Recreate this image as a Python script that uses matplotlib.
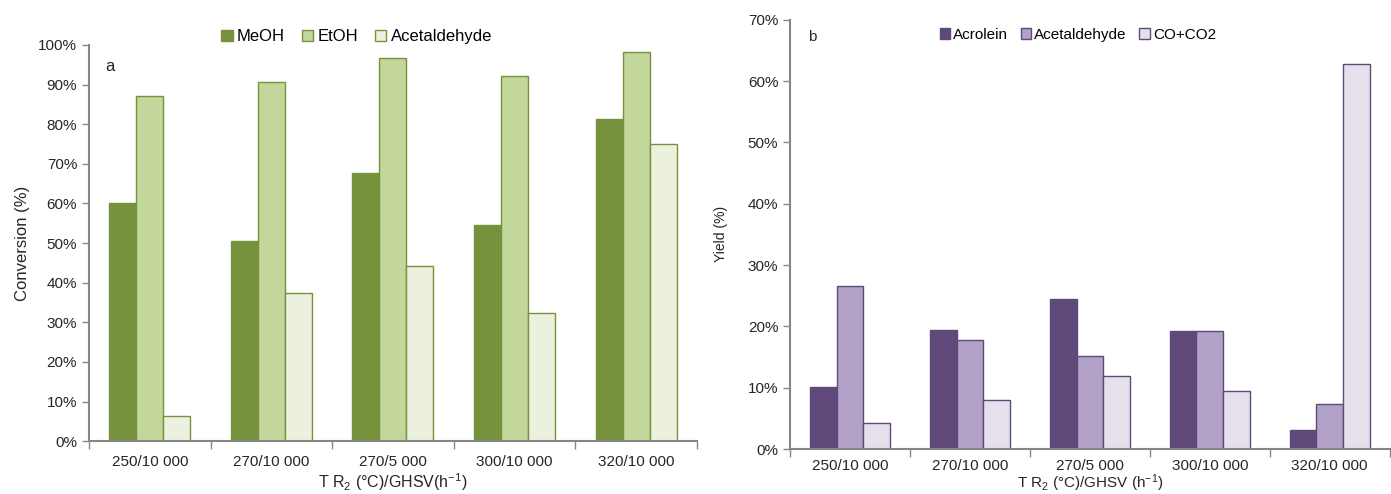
import matplotlib
matplotlib.use("Agg")
import matplotlib.pyplot as plt
import numpy as np

plt.rcParams['font.family'] = ['Liberation Sans', 'DejaVu Sans']
plt.rcParams['mathtext.fontset'] = 'custom'
plt.rcParams['mathtext.rm'] = 'Liberation Sans'
plt.rcParams['mathtext.it'] = 'Liberation Sans'

categories = ["250/10 000", "270/10 000", "270/5 000", "300/10 000", "320/10 000"]

# Panel a: conversion (%)
meoh = [60.1, 50.5, 67.7, 54.5, 81.3]
etoh = [87.0, 90.7, 96.7, 92.2, 98.1]
acet_a = [6.3, 37.4, 44.3, 32.3, 75.0]

# Panel b: yield (%)
acrolein = [10.1, 19.4, 24.5, 19.2, 3.1]
acet_b = [26.6, 17.8, 15.2, 19.2, 7.3]
coco2 = [4.2, 8.0, 11.9, 9.5, 62.8]

fig = plt.figure(figsize=(13.91, 4.94), dpi=100)
axA = fig.add_axes([0.064, 0.107, 0.437, 0.802])
axB = fig.add_axes([0.568, 0.091, 0.431, 0.869])

spine_col = '#868686'
txt_col = '#262626'
x = np.arange(len(categories))
w = 0.222

def style(ax, ymax, step, pad):
    for s in ['top', 'right']:
        ax.spines[s].set_visible(False)
    for s in ['left', 'bottom']:
        ax.spines[s].set_color(spine_col)
        ax.spines[s].set_linewidth(1.5)
    ax.set_xlim(-0.5, len(categories) - 0.5)
    ax.set_ylim(0, ymax)
    yt = np.arange(0, ymax + 0.1, step)
    ax.set_yticks(yt)
    ax.set_yticklabels([f"{int(v)}%" for v in yt], fontsize=11, color=txt_col)
    ax.tick_params(axis='y', length=5, color=spine_col, width=1)
    ax.set_xticks(x)
    ax.set_xticklabels(categories, fontsize=11, color=txt_col)
    ax.tick_params(axis='x', length=0, pad=pad)
    ax.set_xticks(np.arange(-0.5, len(categories)), minor=True)
    ax.tick_params(axis='x', which='minor', length=6, color=spine_col, width=1)

# Panel a
ga = '#76923C'
axA.bar(x - w, meoh, w, color=ga, edgecolor=ga, linewidth=1, label='MeOH')
axA.bar(x, etoh, w, color='#C3D69B', edgecolor=ga, linewidth=1, label='EtOH')
axA.bar(x + w, acet_a, w, color='#EBF1DE', edgecolor=ga, linewidth=1, label='Acetaldehyde')
style(axA, 100, 10, 10)
axA.set_ylabel('Conversion (%)', fontsize=12, color=txt_col, labelpad=6)
axA.set_xlabel('T R$_2$ (°C)/GHSV(h$^{-1}$)', fontsize=11.5, color=txt_col, va='center')
axA.xaxis.set_label_coords(0.5, -0.104)
axA.text(0.027, 0.965, 'a', transform=axA.transAxes, fontsize=12, va='top', color=txt_col)
axA.legend(loc='lower center', bbox_to_anchor=(0.44, 0.985), ncol=3, frameon=False,
           fontsize=12, handlelength=0.7, handleheight=0.7, handletextpad=0.25,
           columnspacing=1.0, borderaxespad=0)

# Panel b
pb = '#5F497A'
axB.bar(x - w, acrolein, w, color=pb, edgecolor=pb, linewidth=1, label='Acrolein')
axB.bar(x, acet_b, w, color='#B2A2C7', edgecolor=pb, linewidth=1, label='Acetaldehyde')
axB.bar(x + w, coco2, w, color='#E5E0EC', edgecolor=pb, linewidth=1, label='CO+CO2')
style(axB, 70, 10, 7)
axB.set_ylabel('Yield (%)', fontsize=10, color=txt_col, labelpad=14)
axB.set_xlabel('T R$_2$ (°C)/GHSV (h$^{-1}$)', fontsize=11, color=txt_col, va='center')
axB.xaxis.set_label_coords(0.5, -0.079)
axB.text(0.03, 0.975, 'b', transform=axB.transAxes, fontsize=11, va='top', color=txt_col)
axB.legend(loc='upper center', bbox_to_anchor=(0.48, 0.995), ncol=3, frameon=False,
           fontsize=11, handlelength=0.7, handleheight=0.7, handletextpad=0.2,
           columnspacing=0.8, borderaxespad=0)

fig.savefig('out.png', dpi=100)
